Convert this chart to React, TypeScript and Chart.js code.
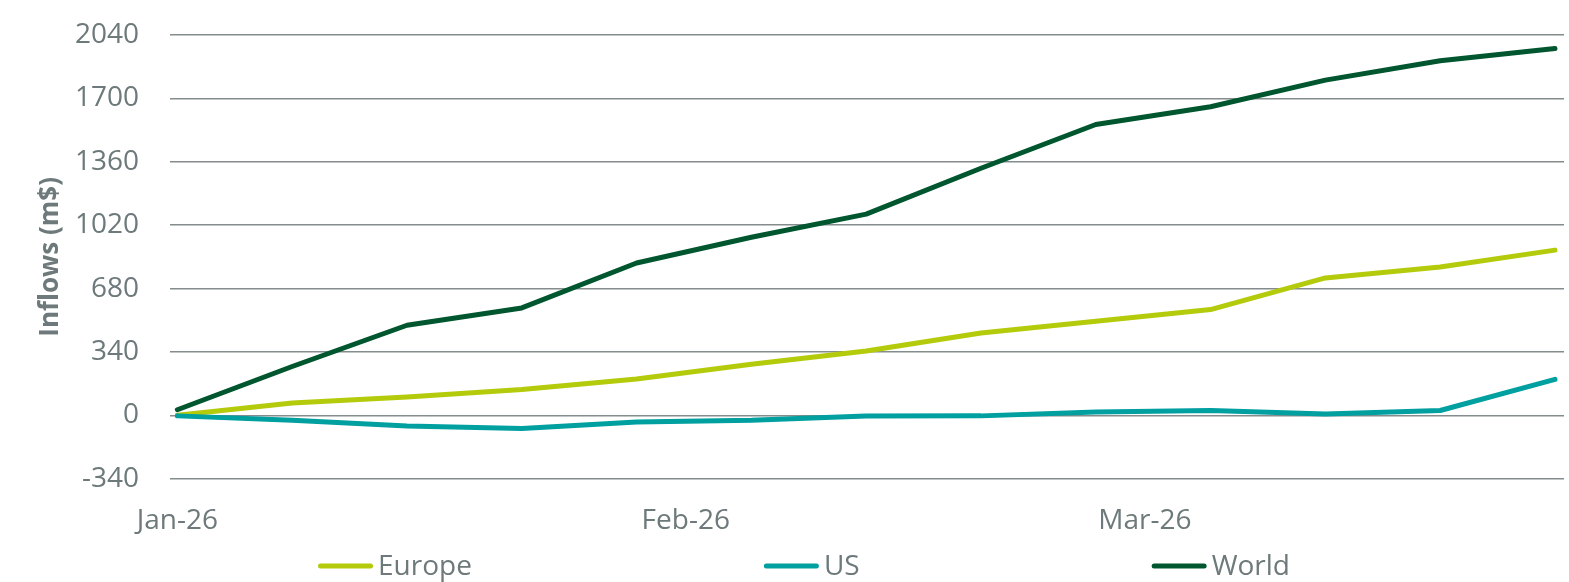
import React, { useEffect, useRef } from 'react';
import { Chart, registerables } from 'chart.js';

Chart.register(...registerables);

// Days since 1 Jan 2026 (weekly observations)
const dayOffsets = [0, 7, 14, 21, 28, 35, 42, 49, 56, 63, 70, 77, 84];
const europeValues = [0, 66, 98, 139, 195, 274, 345, 442, 505, 567, 737, 796, 886];
const usValues = [-3, -27, -57, -71, -36, -27, -4, -3, 18, 26, 7, 26, 193];
const worldValues = [30, 262, 483, 576, 817, 955, 1079, 1325, 1560, 1655, 1798, 1902, 1968];

const xTickDays = [0, 31, 59];
const xTickLabels = ['Jan-26', 'Feb-26', 'Mar-26'];
const yMin = -340;
const yMax = 2040;
const yStep = 340;

const seriesNames = ['Europe', 'US', 'World'];
const seriesColors = ['#b3cb0b', '#009fa0', '#00562f'];
const textColor = '#6d797a';
const gridColor = '#848c8d';

const legendPlugin = {
  id: 'customLegend',
  afterDraw(chart: any) {
    const ctx = chart.ctx as CanvasRenderingContext2D;
    ctx.save();
    ctx.font = '28px "Open Sans"';
    const lineLen = 55;
    const gap = 5;
    const itemGap = 292;
    const labels: string[] = chart.data.datasets.map((d: any) => d.label);
    const widths = labels.map((l) => lineLen + gap + ctx.measureText(l).width);
    const total = widths.reduce((a, b) => a + b, 0) + itemGap * (widths.length - 1);
    let x = 804 - total / 2;
    const y = 566;
    chart.data.datasets.forEach((ds: any, i: number) => {
      ctx.strokeStyle = ds.borderColor;
      ctx.lineWidth = 5;
      ctx.lineCap = 'round';
      ctx.beginPath();
      ctx.moveTo(x + 2.5, y);
      ctx.lineTo(x + lineLen - 2.5, y);
      ctx.stroke();
      ctx.fillStyle = textColor;
      ctx.textBaseline = 'middle';
      ctx.textAlign = 'left';
      ctx.fillText(ds.label, x + lineLen + gap, y + 1);
      x += widths[i] + itemGap;
    });
    ctx.restore();
  },
};

export default function App() {
  const canvasRef = useRef<HTMLCanvasElement | null>(null);

  useEffect(() => {
    document.body.style.margin = '0';
    document.body.style.overflow = 'hidden';
    const canvas = canvasRef.current;
    if (!canvas) return;

    const mk = (vals: number[]) => dayOffsets.map((d, i) => ({ x: d, y: vals[i] }));
    const allValues = [europeValues, usValues, worldValues];

    const chart = new Chart(canvas, {
      type: 'line',
      data: {
        datasets: seriesNames.map((name, i) => ({
          label: name,
          data: mk(allValues[i]),
          borderColor: seriesColors[i],
          backgroundColor: seriesColors[i],
          borderWidth: 5,
          pointRadius: 0,
          pointHoverRadius: 0,
          tension: 0,
          borderCapStyle: 'round',
          borderJoinStyle: 'round',
          order: 2 - i,
        })),
      },
      options: {
        animation: false,
        responsive: true,
        maintainAspectRatio: false,
        events: [],
        layout: { padding: { top: 35, right: 5, bottom: 45, left: 0 } },
        plugins: {
          legend: { display: false },
          tooltip: { enabled: false },
        },
        scales: {
          x: {
            type: 'linear',
            min: -0.45,
            max: 84.55,
            grid: { display: false, drawTicks: false },
            border: { display: false },
            afterBuildTicks: (scale: any) => {
              scale.ticks = xTickDays.map((v) => ({ value: v }));
            },
            afterFit: (scale: any) => {
              scale.height = 58.3;
              scale.paddingLeft = 0;
              scale.paddingRight = 0;
            },
            ticks: {
              autoSkip: false,
              maxRotation: 0,
              padding: 26,
              color: textColor,
              font: { family: 'Open Sans', size: 28, lineHeight: 1.2 },
              callback: (value: any) => {
                const idx = xTickDays.indexOf(Number(value));
                return idx >= 0 ? xTickLabels[idx] : '';
              },
            },
          },
          y: {
            min: yMin,
            max: yMax,
            afterFit: (scale: any) => {
              scale.width = 170;
              scale.paddingTop = 0;
              scale.paddingBottom = 0;
            },
            grid: { color: gridColor, lineWidth: 1.4, drawTicks: false },
            border: { display: false },
            ticks: {
              stepSize: yStep,
              padding: 31,
              color: textColor,
              font: { family: 'Open Sans', size: 28, lineHeight: 1.2 },
              callback: (value: any) => String(value),
            },
            title: {
              display: true,
              text: 'Inflows (m$)',
              color: textColor,
              padding: { top: 35, bottom: 0 },
              font: { family: 'Open Sans', size: 26, weight: 'bold', lineHeight: 1.2 },
            },
          },
        },
      },
      plugins: [legendPlugin],
    } as any);

    return () => chart.destroy();
  }, []);

  return (
    <div style={{ position: 'relative', width: '1569px', height: '582px' }}>
      <canvas ref={canvasRef} />
    </div>
  );
}
